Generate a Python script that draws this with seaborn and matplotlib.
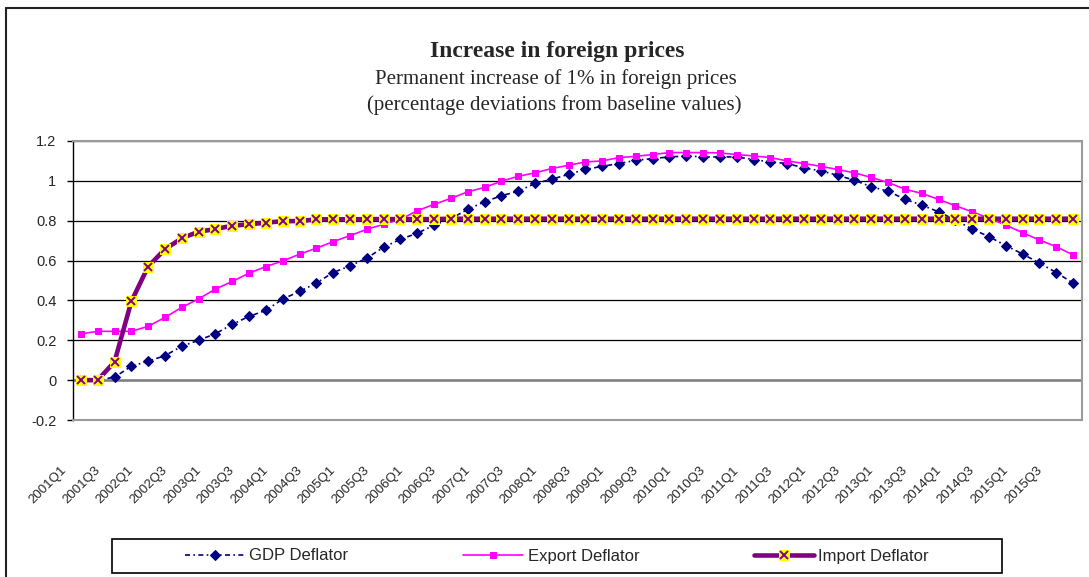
import numpy as np
import pandas as pd
import matplotlib
matplotlib.use("Agg")
import matplotlib.pyplot as plt
import seaborn as sns
from matplotlib.legend_handler import HandlerTuple
from matplotlib.lines import Line2D
from matplotlib.patches import Rectangle
from matplotlib.ticker import FuncFormatter
import matplotlib.transforms as mtransforms

# ---------------- data ----------------
years = list(range(2001, 2016))
quarters = [f"{y}Q{q}" for y in years for q in range(1, 5)]

gdp_deflator = [
    0.0, 0.0, 0.015, 0.07, 0.095, 0.123, 0.17, 0.2, 0.233, 0.28,
    0.32, 0.35, 0.407, 0.445, 0.487, 0.54, 0.573, 0.612, 0.667, 0.707,
    0.737, 0.778, 0.81, 0.857, 0.895, 0.925, 0.948, 0.987, 1.008, 1.033,
    1.057, 1.073, 1.087, 1.103, 1.112, 1.12, 1.125, 1.12, 1.12, 1.12,
    1.107, 1.095, 1.087, 1.065, 1.05, 1.028, 1.003, 0.97, 0.948, 0.908,
    0.878, 0.845, 0.803, 0.758, 0.72, 0.675, 0.633, 0.587, 0.54, 0.487,
]
export_deflator = [
    0.232, 0.245, 0.245, 0.245, 0.27, 0.315, 0.365, 0.408, 0.457, 0.495,
    0.537, 0.57, 0.598, 0.632, 0.662, 0.695, 0.725, 0.757, 0.782, 0.807,
    0.85, 0.882, 0.912, 0.945, 0.967, 0.998, 1.023, 1.04, 1.062, 1.078,
    1.095, 1.10, 1.117, 1.123, 1.132, 1.142, 1.142, 1.142, 1.14, 1.132,
    1.125, 1.117, 1.10, 1.087, 1.073, 1.057, 1.04, 1.017, 0.992, 0.958,
    0.937, 0.907, 0.875, 0.845, 0.812, 0.778, 0.74, 0.703, 0.67, 0.628,
]
import_deflator = [
    0.0, 0.0, 0.092, 0.395, 0.57, 0.657, 0.712, 0.745, 0.758, 0.775,
    0.782, 0.79, 0.798, 0.798, 0.807, 0.807, 0.807, 0.808, 0.808, 0.808,
    0.808, 0.808, 0.81, 0.81, 0.81, 0.81, 0.81, 0.81, 0.81, 0.81,
    0.81, 0.81, 0.81, 0.81, 0.81, 0.81, 0.81, 0.81, 0.81, 0.81,
    0.81, 0.81, 0.81, 0.81, 0.81, 0.81, 0.81, 0.81, 0.81, 0.81,
    0.81, 0.81, 0.81, 0.81, 0.81, 0.81, 0.81, 0.81, 0.81, 0.81,
]

series_names = ["GDP Deflator", "Export Deflator", "Import Deflator"]
title = "Increase in foreign prices"
subtitle_1 = "Permanent increase of 1% in foreign prices"
subtitle_2 = "(percentage deviations from baseline values)"
y_ticks = [-0.2, 0.0, 0.2, 0.4, 0.6, 0.8, 1.0, 1.2]
x_tick_labels = quarters[::2]

df = pd.DataFrame({
    "pos": np.arange(len(quarters)),
    "quarter": quarters,
    series_names[0]: gdp_deflator,
    series_names[1]: export_deflator,
    series_names[2]: import_deflator,
})

# ---------------- style ----------------
sns.set_style("white")
SANS = ["Liberation Sans Narrow", "Liberation Sans", "DejaVu Sans"]
SERIF = ["Liberation Serif", "DejaVu Serif"]
plt.rcParams["font.family"] = SANS

W, H = 1089, 577
fig = plt.figure(figsize=(W / 100, H / 100), dpi=100)
fig.patch.set_facecolor("white")

ax_left, ax_right, ax_top, ax_bot = 73, 1082, 141, 420
ax = fig.add_axes([ax_left / W, 1 - ax_bot / H, (ax_right - ax_left) / W, (ax_bot - ax_top) / H])

# ---------------- lines ----------------
sns.lineplot(data=df, x="pos", y=series_names[0], ax=ax, color="#000080",
             linestyle=(0, (3, 2, 1, 2)), linewidth=1.2, marker="D", markersize=4.6,
             markerfacecolor="#000080", markeredgecolor="#000080", zorder=3)
h_gdp = ax.lines[-1]
sns.lineplot(data=df, x="pos", y=series_names[1], ax=ax, color="#FF00FF",
             linewidth=1.2, marker="s", markersize=4.6,
             markerfacecolor="#FF00FF", markeredgecolor="#FF00FF", zorder=4)
h_exp = ax.lines[-1]
sns.lineplot(data=df, x="pos", y=series_names[2], ax=ax, color="#800080",
             linewidth=3.3, marker="s", markersize=7.2,
             markerfacecolor="#FFFF00", markeredgecolor="#FFFF00", zorder=5)
h_imp = ax.lines[-1]
sns.lineplot(data=df, x="pos", y=series_names[2], ax=ax, color="#800080",
             linestyle="none", marker="x", markersize=5.2, markeredgewidth=1.4,
             markeredgecolor="#800080", zorder=6)
h_impx = ax.lines[-1]

# ---------------- axes ----------------
ax.set_xlim(-0.47, 59.53)
ax.set_ylim(-0.2, 1.2)
ax.set_yticks(y_ticks)
ax.yaxis.set_major_formatter(FuncFormatter(lambda v, _: f"{round(v, 1):g}"))
ax.grid(axis="y", color="black", linewidth=0.9)
ax.grid(axis="x", visible=False)
ax.set_axisbelow(True)
ax.axhline(0, color="#808080", linewidth=1.8, zorder=1)

for s in ["top", "right", "bottom"]:
    ax.spines[s].set_color("#9a9a9a")
    ax.spines[s].set_linewidth(1.5)
ax.spines["left"].set_color("black")
ax.spines["left"].set_linewidth(1.0)

ax.tick_params(axis="y", direction="out", length=4, width=1, color="black",
               pad=8, labelsize=10.5, left=True)
ax.set_xticks(np.arange(0, len(quarters), 2))
ax.set_xticklabels(x_tick_labels, rotation=45, ha="right", va="top")
ax.tick_params(axis="x", length=0, pad=32, labelsize=9.5)
offset = mtransforms.ScaledTranslation(-12 / 100, 0, fig.dpi_scale_trans)
for lab in ax.get_xticklabels():
    lab.set_transform(lab.get_transform() + offset)
ax.set_xlabel("")
ax.set_ylabel("")

# ---------------- titles ----------------
fig.text(557 / W, 1 - 57 / H, title, ha="center", va="baseline",
         fontsize=17, fontweight="bold", family=SERIF)
fig.text(556 / W, 1 - 84 / H, subtitle_1, ha="center", va="baseline",
         fontsize=15, family=SERIF)
fig.text(554 / W, 1 - 110 / H, subtitle_2, ha="center", va="baseline",
         fontsize=15, family=SERIF)

# ---------------- legend ----------------
fig.add_artist(Rectangle((112 / W, 1 - 573 / H), 890 / W, 34 / H,
                         transform=fig.transFigure, fill=False,
                         edgecolor="black", linewidth=1.2))
fig.legend(handles=[h_gdp, h_exp, (h_imp, h_impx)], labels=series_names,
           handler_map={tuple: HandlerTuple(ndivide=1, pad=0)},
           ncol=3, loc="center", bbox_to_anchor=(557 / W, 1 - 556 / H),
           frameon=False, columnspacing=6.9, handlelength=3.6,
           handletextpad=0.25, fontsize=12)

# ---------------- outer border ----------------
fig.add_artist(Line2D([6 / W, 6 / W], [0, 1 - 8 / H], transform=fig.transFigure,
                      color="#222222", linewidth=1.5))
fig.add_artist(Line2D([6 / W, 1], [1 - 8 / H, 1 - 8 / H], transform=fig.transFigure,
                      color="#222222", linewidth=1.5))

fig.savefig("out.png", dpi=100)
